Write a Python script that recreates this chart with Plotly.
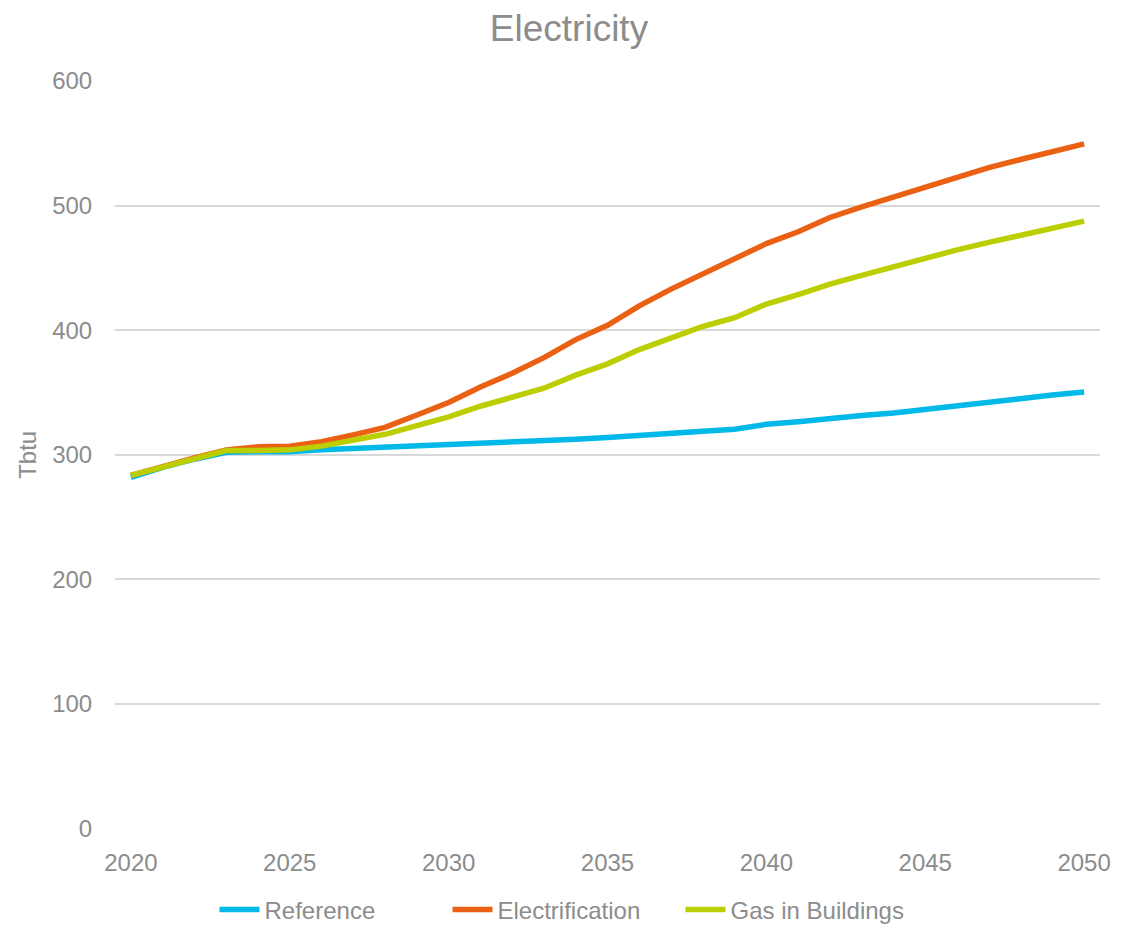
import plotly.graph_objects as go

years = list(range(2020, 2051))
reference = [282, 290, 296.5, 302, 302.5, 302.5, 304, 305, 306, 307.5, 308.5, 309, 309.5, 310.5,
             312.5, 314, 316, 317.5, 319, 320.5, 324.5, 326.5, 329.5, 331.5, 333.5, 336.5, 339.5,
             343, 345.5, 348, 350.5]
electrification = [283.5, 291, 297.5, 304, 306.5, 307, 310.5, 316, 322, 332, 342, 354.5, 365.5,
                   378, 392.5, 404, 419.5, 433, 445.5, 457, 469.5, 479, 490.5, 499, 507, 514,
                   522.5, 530.5, 537, 543.5, 549.5]
gas_in_buildings = [283.5, 290.5, 297, 303.5, 303.5, 304, 307, 312, 316.5, 323.5, 330.5, 339, 346,
                    353.5, 364, 373, 384.5, 394, 403, 410, 421, 428.5, 437, 444, 451, 458, 464.5,
                    470.5, 476, 482, 487.5]
x_ticks = [2020, 2025, 2030, 2035, 2040, 2045, 2050]
y_ticks = [0, 100, 200, 300, 400, 500, 600]

grey = "#8c8c8c"
font_family = "Liberation Sans, Arial, sans-serif"

W, H = 1131, 918  # page body has an 8px margin

fig = go.Figure()
for name, vals, color in [
    ("Reference", reference, "#00B9E8"),
    ("Electrification", electrification, "#EA6113"),
    ("Gas in Buildings", gas_in_buildings, "#BCCE00"),
]:
    fig.add_trace(go.Scatter(x=years, y=vals, name=name, mode="lines",
                             line=dict(color=color, width=5.5)))

fig.update_layout(
    width=W, height=H,
    paper_bgcolor="white", plot_bgcolor="white",
    margin=dict(l=107, r=39, t=73, b=95),
    font=dict(family=font_family, color=grey, size=24),
    title=dict(text="Electricity", x=(569 - 8) / W, xanchor="center", y=1 - 20 / H,
               yanchor="middle", yref="container", xref="container",
               font=dict(size=37, color=grey, family=font_family)),
    showlegend=True,
    legend=dict(orientation="h", x=(564 - 8) / W, xanchor="center", xref="container",
                y=1 - 902 / H, yanchor="middle", yref="container",
                font=dict(size=24, color=grey), itemwidth=40,
                entrywidth=178, entrywidthmode="pixels"),
)
fig.update_xaxes(range=[2019.5, 2050.5], tickvals=x_ticks, showgrid=False,
                 zeroline=False, showline=False, ticks="outside", ticklen=12,
                 tickcolor="rgba(0,0,0,0)", tickfont=dict(size=24, color=grey))
fig.update_yaxes(range=[0, 600], tickvals=y_ticks, showgrid=True, gridcolor="#d9d9d9",
                 gridwidth=1.5, zeroline=False, showline=False, ticks="outside",
                 ticklen=17, tickcolor="rgba(0,0,0,0)", tickfont=dict(size=24, color=grey),
                 title=dict(text="Tbtu", standoff=8, font=dict(size=24, color=grey)))

fig.write_html("out.html")
